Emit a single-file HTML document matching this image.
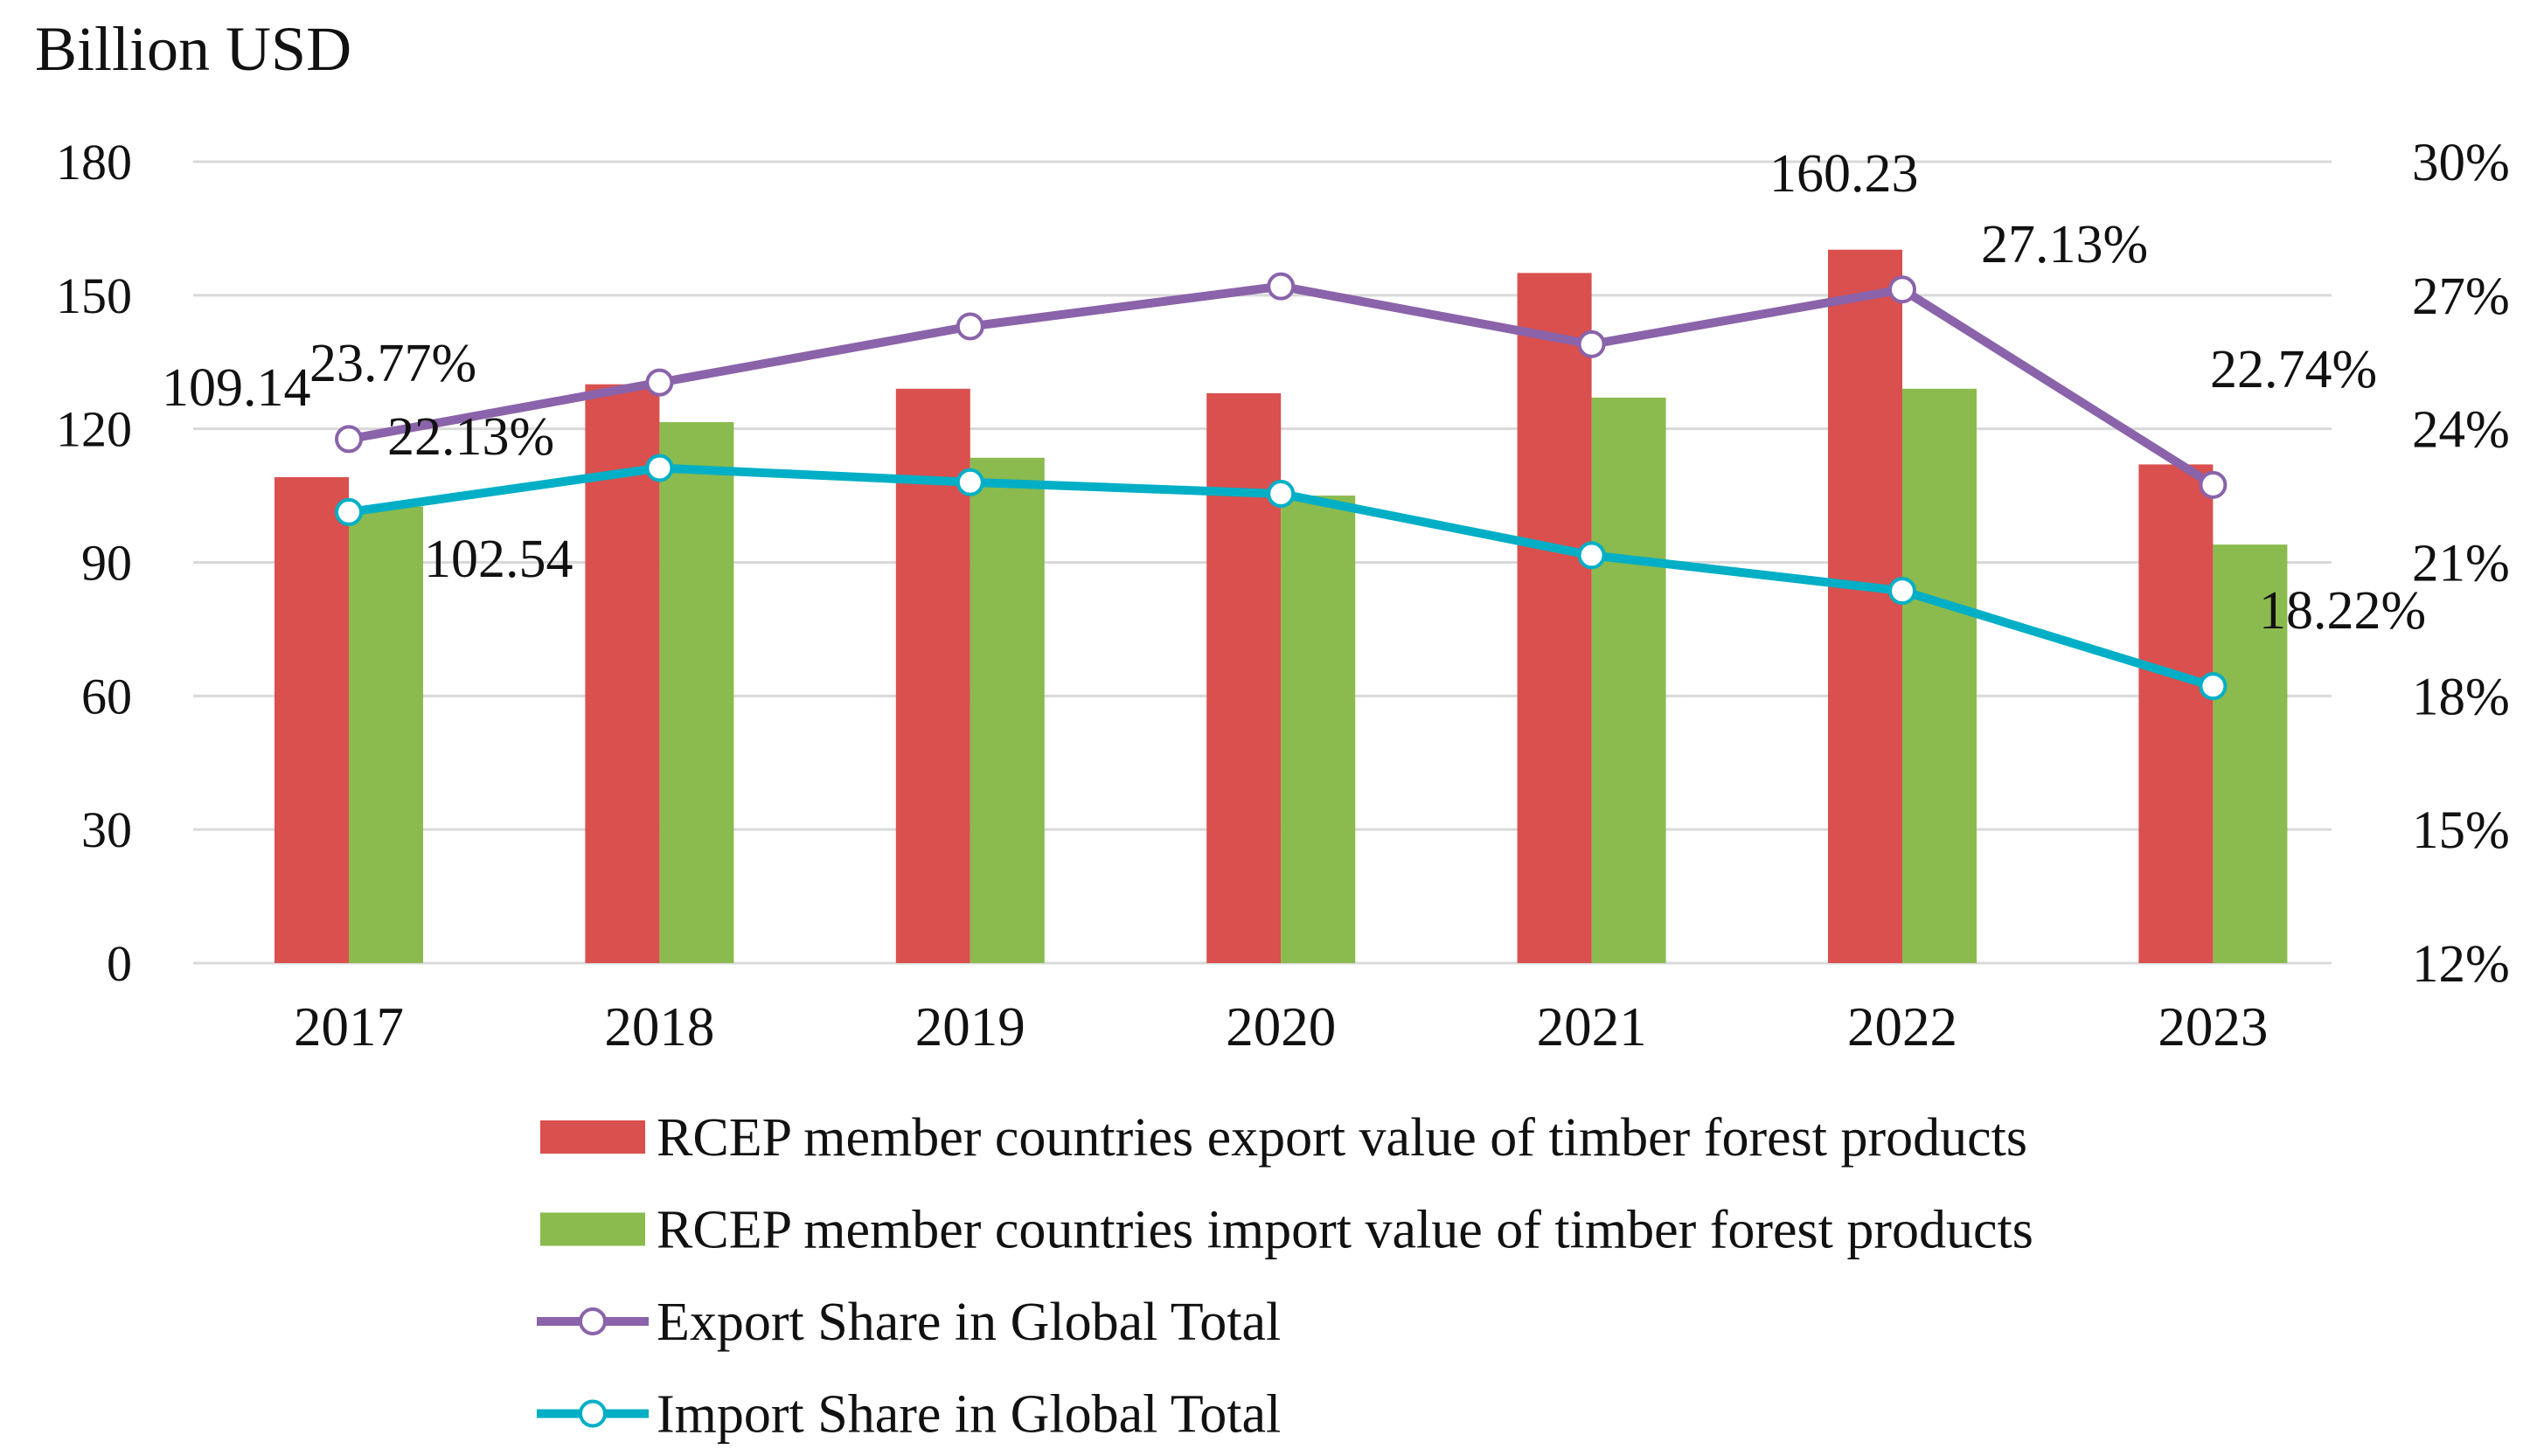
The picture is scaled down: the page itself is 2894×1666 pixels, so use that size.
<!DOCTYPE html>
<html><head><meta charset="utf-8"><style>
html,body{margin:0;padding:0;background:#fff}
svg{display:block;font-family:"Liberation Serif","Times New Roman",serif}
</style></head><body>
<svg id="chart" width="2894" height="1666" viewBox="0 0 2894 1666" xmlns="http://www.w3.org/2000/svg">
<text x="40" y="80" font-size="72" fill="#111">Billion USD</text>
<g id="grid"></g><g id="bars"></g><g id="lines"></g><g id="labels"></g><g id="legend"></g>
</svg>
<script>
const categories = ["2017","2018","2019","2020","2021","2022","2023"];
const exportValues = [109.14,130,129,128,155,160.23,112];
const importValues = [102.54,121.5,113.5,105,127,129,94];
const exportShare = [23.77,25.04,26.3,27.2,25.9,27.13,22.74];
const importShare = [22.13,23.12,22.8,22.54,21.16,20.36,18.22];
const leftTicks = [0,30,60,90,120,150,180];
const rightTicks = [12,15,18,21,24,27,30];
const valueLabels = [
  {text:"109.14", x:185, y:462},
  {text:"23.77%", x:354, y:434},
  {text:"22.13%", x:443, y:518},
  {text:"102.54", x:485, y:658},
  {text:"160.23", x:2024, y:217},
  {text:"27.13%", x:2266, y:298},
  {text:"22.74%", x:2528, y:441},
  {text:"18.22%", x:2584, y:717}
];
const NS="http://www.w3.org/2000/svg";
const L=221,R=2667,T=185,B=1102;
const step=355.4, x0=399;
const xc=i=>x0+step*i;
const yL=v=>B-(v/180)*(B-T);
const yR=v=>B-((v-12)/18)*(B-T);
function mk(tag,attrs,parent){const e=document.createElementNS(NS,tag);for(const k in attrs)e.setAttribute(k,attrs[k]);parent.appendChild(e);return e;}
const grid=document.getElementById('grid'),bars=document.getElementById('bars'),lines=document.getElementById('lines'),labels=document.getElementById('labels'),legend=document.getElementById('legend');
leftTicks.forEach(t=>{
  const g=mk('line',{x1:L,x2:R,y1:yL(t),y2:yL(t),stroke:'#d9d9d9','stroke-width':3},grid);
  
  
  const tx=mk('text',{x:151,y:yL(t)+20,'font-size':58,'text-anchor':'end',fill:'#111'},grid);
  tx.textContent=t;
  
  
});
rightTicks.forEach(t=>{
  const tx=mk('text',{x:2759,y:yR(t)+21,'font-size':61,fill:'#111'},grid);
  tx.textContent=t+'%';
  
  
});
const bw=85;
categories.forEach((c,i)=>{
  const x=xc(i);
  const r=mk('rect',{x:x-bw,y:yL(exportValues[i]),width:bw,height:B-yL(exportValues[i]),fill:'#D9504E'},bars);
  
  
  const g=mk('rect',{x:x,y:yL(importValues[i]),width:bw,height:B-yL(importValues[i]),fill:'#8BBB4E'},bars);
  
  
  const tx=mk('text',{x:x,y:1196,'font-size':63,'text-anchor':'middle',fill:'#111'},grid);
  tx.textContent=c;
  
  
});
function series(vals,color,name){
  const pts=vals.map((v,i)=>xc(i)+','+yR(v)).join(' ');
  const pl=mk('polyline',{points:pts,fill:'none',stroke:color,'stroke-width':10,'stroke-linejoin':'round'},lines);
  
  
  vals.forEach((v,i)=>{
    const c=mk('circle',{cx:xc(i),cy:yR(v),r:14,fill:'#fff',stroke:color,'stroke-width':4},lines);
    
    
  });
}
series(exportShare,'#8A63AA','export-share');
series(importShare,'#00AFC6','import-share');
valueLabels.forEach(l=>{
  const t=mk('text',{x:l.x,y:l.y+2,'font-size':62,fill:'#111'},labels);
  t.textContent=l.text;
  
  
});
const leg=[
  {t:"RCEP member countries export value of timber forest products",c:'#D9504E',k:'bar'},
  {t:"RCEP member countries import value of timber forest products",c:'#8BBB4E',k:'bar'},
  {t:"Export Share in Global Total",c:'#8A63AA',k:'line'},
  {t:"Import Share in Global Total",c:'#00AFC6',k:'line'}
];
leg.forEach((e,i)=>{
  const y=1301+i*105.5;
  const g=mk('g',{},legend);
  
  
  if(e.k==='bar'){mk('rect',{x:618,y:y-19,width:120,height:38,fill:e.c},g);}
  else{mk('line',{x1:614,x2:742,y1:y,y2:y,stroke:e.c,'stroke-width':10},g);mk('circle',{cx:678,cy:y,r:14,fill:'#fff',stroke:e.c,'stroke-width':4},g);}
  const t=mk('text',{x:751,y:y+21,'font-size':62,fill:'#111'},g);
  t.textContent=e.t;
});
</script>
</body></html>
